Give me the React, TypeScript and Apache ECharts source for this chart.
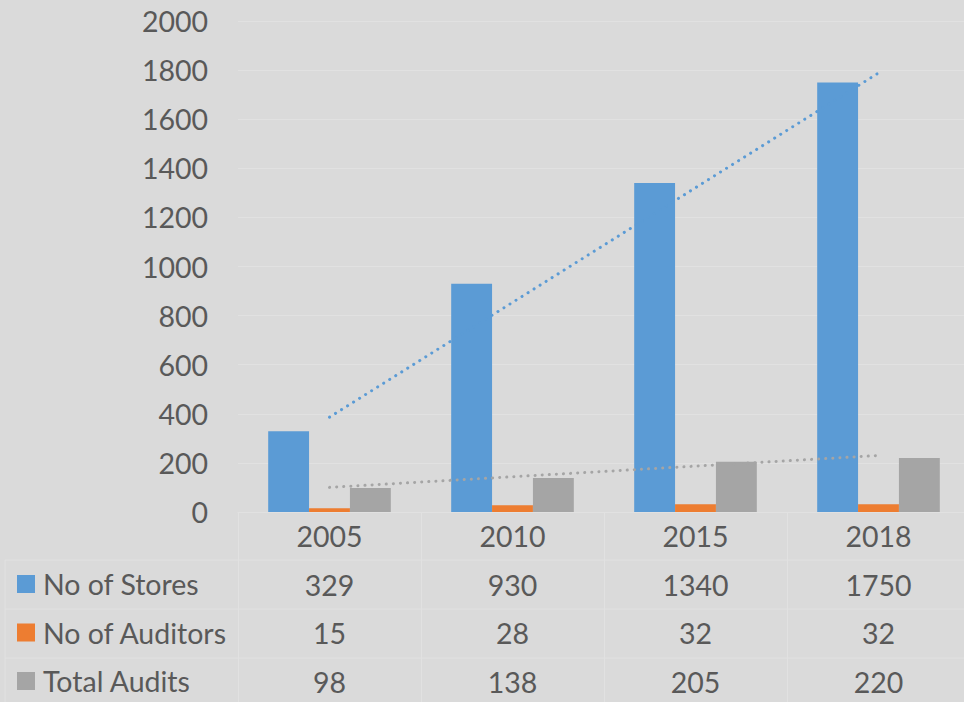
import React, { useEffect, useRef } from "react";
import * as echarts from "echarts";

const years = ["2005", "2010", "2015", "2018"];
const stores = [329, 930, 1340, 1750];
const auditors = [15, 28, 32, 32];
const totalAudits = [98, 138, 205, 220];
const seriesNames = ["No of Stores", "No of Auditors", "Total Audits"];

// Linear (least-squares) trendline, like Excel's linear trendline
function linearTrend(values: number[]): number[] {
  const n = values.length;
  const xs = values.map((_, i) => i + 1);
  const mx = xs.reduce((a, b) => a + b, 0) / n;
  const my = values.reduce((a, b) => a + b, 0) / n;
  let num = 0;
  let den = 0;
  xs.forEach((x, i) => {
    num += (x - mx) * (values[i] - my);
    den += (x - mx) * (x - mx);
  });
  const slope = num / den;
  return xs.map((x) => +(my + slope * (x - mx)).toFixed(2));
}

const BG = "#dadada";
const LINE = "#e1e1e1";
const TEXT = "#595959";
const FONT = "Lato, 'Open Sans', sans-serif";
const FS = 28.5;
const W = 970;

export default function App() {
  const ref = useRef<HTMLDivElement>(null);
  useEffect(() => {
    if (!ref.current) return;
    const chart = echarts.init(ref.current, undefined, { renderer: "svg" });
    const rich = {
      y: { fontSize: FS, fontFamily: FONT, color: TEXT, lineHeight: 48.5 },
      v: { fontSize: FS, fontFamily: FONT, color: TEXT, lineHeight: 48.5 },
    };
    chart.setOption({
      animation: false,
      backgroundColor: BG,
      textStyle: { fontFamily: FONT },
      grid: { left: 238, right: 0, top: 21, bottom: 190 },
      legend: {
        data: seriesNames,
        orient: "vertical",
        left: 17,
        top: 569,
        height: 200,
        padding: 0,
        icon: "rect",
        itemWidth: 18,
        itemHeight: 18,
        itemGap: 18.5,
        textStyle: { fontSize: FS, fontFamily: FONT, color: TEXT, lineHeight: 30, padding: [0, 0, 0, 3] },
        selectedMode: false,
      },
      xAxis: {
        type: "category",
        data: years,
        boundaryGap: true,
        axisLine: { show: true, lineStyle: { color: LINE, width: 1 } },
        axisTick: { show: true, length: 190, alignWithLabel: false, lineStyle: { color: LINE, width: 1 } },
        axisLabel: {
          interval: 0,
          margin: 0,
          formatter: (v: string, i: number) =>
            `{y|${v}}\n{v|${stores[i]}}\n{v|${auditors[i]}}\n{v|${totalAudits[i]}}`,
          rich,
        },
      },
      yAxis: {
        type: "value",
        min: 0,
        max: 2000,
        interval: 200,
        axisLine: { show: false },
        axisTick: { show: false },
        axisLabel: {
          fontSize: FS,
          fontFamily: FONT,
          color: TEXT,
          margin: 30,
          formatter: (v: number) => String(v),
        },
        splitLine: { show: true, lineStyle: { color: LINE, width: 1 } },
      },
      graphic: [
        { type: "line", shape: { x1: 5, y1: 560, x2: W, y2: 560 }, style: { stroke: LINE, lineWidth: 1 }, silent: true },
        { type: "line", shape: { x1: 5, y1: 609, x2: W, y2: 609 }, style: { stroke: LINE, lineWidth: 1 }, silent: true },
        { type: "line", shape: { x1: 5, y1: 658, x2: W, y2: 658 }, style: { stroke: LINE, lineWidth: 1 }, silent: true },
        { type: "line", shape: { x1: 5, y1: 560, x2: 5, y2: 702 }, style: { stroke: LINE, lineWidth: 1 }, silent: true },
      ],
      series: [
        {
          name: seriesNames[0],
          type: "bar",
          data: stores,
          barGap: "0%",
          barCategoryGap: "33%",
          itemStyle: { color: "#5b9bd5" },
        },
        {
          name: seriesNames[1],
          type: "bar",
          data: auditors,
          barGap: "0%",
          barCategoryGap: "33%",
          itemStyle: { color: "#ed7d31" },
        },
        {
          name: seriesNames[2],
          type: "bar",
          data: totalAudits,
          barGap: "0%",
          barCategoryGap: "33%",
          itemStyle: { color: "#a5a5a5" },
        },
        {
          name: "Linear (No of Stores)",
          type: "line",
          data: linearTrend(stores),
          symbol: "none",
          silent: true,
          z: 5,
          lineStyle: { color: "#5b9bd5", width: 3, type: [0.1, 7], cap: "round" },
        },
        {
          name: "Linear (Total Audits)",
          type: "line",
          data: linearTrend(totalAudits),
          symbol: "none",
          silent: true,
          z: 5,
          lineStyle: { color: "#a5a5a5", width: 3, type: [0.1, 7], cap: "round" },
        },
      ],
    });
    return () => chart.dispose();
  }, []);
  return (
    <div
      style={{ position: "fixed", left: 0, top: 0, width: 964, height: 702, overflow: "hidden", background: BG }}
    >
      <div ref={ref} style={{ width: W, height: 702 }} />
    </div>
  );
}
